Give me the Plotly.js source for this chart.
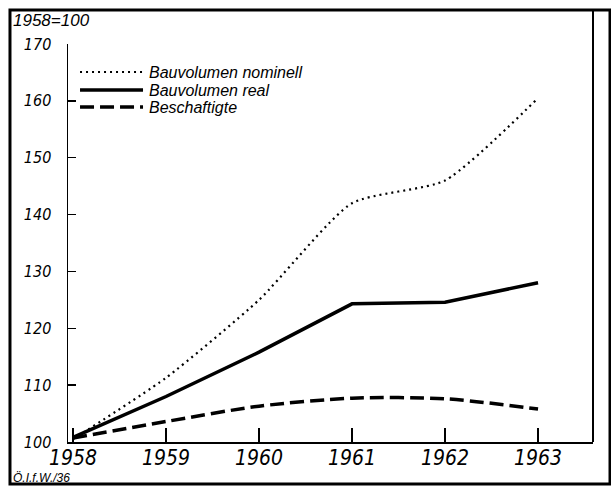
<!DOCTYPE html>
<html>
<head>
<meta charset="utf-8">
<script src="https://cdn.plot.ly/plotly-3.0.1.min.js"></script>
<style>
  html, body { margin: 0; padding: 0; background: #fff; }
  #chart { width: 611px; height: 486px; }
</style>
</head>
<body>
<div id="chart"></div>
<script>
// ---- data ----
const years = [1958, 1959, 1960, 1961, 1962, 1963];
const seriesNames = ["Bauvolumen nominell", "Bauvolumen real", "Beschaftigte"];
const nominell = [100.5, 111.3, 125.0, 142.0, 146.0, 160.5];
const real = [100.8, 108.0, 115.8, 124.3, 124.6, 128.0];
const beschaeftigte = [100.7, 103.6, 106.3, 107.7, 107.6, 105.8];
const yTicks = [100, 110, 120, 130, 140, 150, 160, 170];
const baseLabel = "1958=100";
const sourceLabel = "Ö.I.f.W./36";

// ---- styles ----
const styles = [
  { dash: "2px,4px", width: 2.2, shape: "spline", smoothing: 0.6 },
  { dash: "solid", width: 3.5, shape: "linear", smoothing: 0 },
  { dash: "14px,6px", width: 3.5, shape: "spline", smoothing: 0.8 }
];
const values = [nominell, real, beschaeftigte];

const numFont = { family: "'Liberation Sans Narrow', 'DejaVu Sans Condensed', sans-serif", color: "#000", style: "italic" };
const textFont = { family: "'Liberation Sans', Arial, sans-serif", color: "#000", style: "italic" };

const traces = values.map((v, i) => ({
  x: years, y: v, type: "scatter", mode: "lines", name: seriesNames[i],
  line: { color: "#000", width: styles[i].width, dash: styles[i].dash,
          shape: styles[i].shape, smoothing: styles[i].smoothing || undefined },
  showlegend: false, hoverinfo: "skip"
}));

// custom legend (sample lines + labels) in paper coordinates
const legendY = [0.9296, 0.8844, 0.8417];
const shapes = [];
const annotations = [];
legendY.forEach((ly, i) => {
  shapes.push({ type: "line", xref: "paper", yref: "paper", x0: 0.0229, x1: 0.1429, y0: ly, y1: ly,
    line: { color: "#000", width: styles[i].width, dash: styles[i].dash } });
  annotations.push({ xref: "paper", yref: "paper", x: 0.1505, y: ly, xanchor: "left", yanchor: "middle",
    text: seriesNames[i], showarrow: false, font: Object.assign({ size: 16 }, textFont) });
});

// frame lines
shapes.push({ type: "rect", xref: "paper", yref: "paper", x0: -0.1105, x1: 1.0324, y0: -0.1055, y1: 1.0854,
  line: { color: "#000", width: 3 }, fillcolor: "rgba(0,0,0,0)", layer: "above" });
shapes.push({ type: "line", xref: "paper", yref: "paper", x0: 1, x1: 1, y0: 0, y1: 1.0854,
  line: { color: "#000", width: 2 } });

annotations.push({ xref: "paper", yref: "paper", x: -0.108, y: 1.0603, xanchor: "left", yanchor: "middle",
  text: baseLabel, showarrow: false, font: Object.assign({ size: 17 }, textFont) });
annotations.push({ xref: "paper", yref: "paper", x: -0.108, y: -0.0905, xanchor: "left", yanchor: "middle",
  text: sourceLabel, showarrow: false, font: Object.assign({ size: 12 }, textFont) });

const layout = {
  width: 611, height: 486,
  margin: { l: 68, r: 18, t: 44, b: 44, pad: 0 },
  paper_bgcolor: "#fff", plot_bgcolor: "#fff",
  showlegend: false,
  xaxis: {
    range: [1957.946, 1963.591], tickvals: years, ticktext: years.map(String),
    ticks: "inside", ticklen: 14, tickwidth: 1.5, tickcolor: "#000",
    showline: true, linecolor: "#000", linewidth: 2, showgrid: false, zeroline: false,
    tickfont: Object.assign({ size: 21 }, numFont), ticklabelstandoff: -4
  },
  yaxis: {
    range: [100, 170], tickvals: yTicks, ticktext: yTicks.map(String),
    ticks: "inside", ticklen: 8, tickwidth: 1.5, tickcolor: "#000",
    showline: true, linecolor: "#000", linewidth: 1.5, showgrid: false, zeroline: false,
    tickfont: Object.assign({ size: 16 }, numFont), ticklabelstandoff: 12
  },
  shapes: shapes,
  annotations: annotations
};

Plotly.newPlot("chart", traces, layout, { staticPlot: true, displayModeBar: false });
</script>
</body>
</html>
